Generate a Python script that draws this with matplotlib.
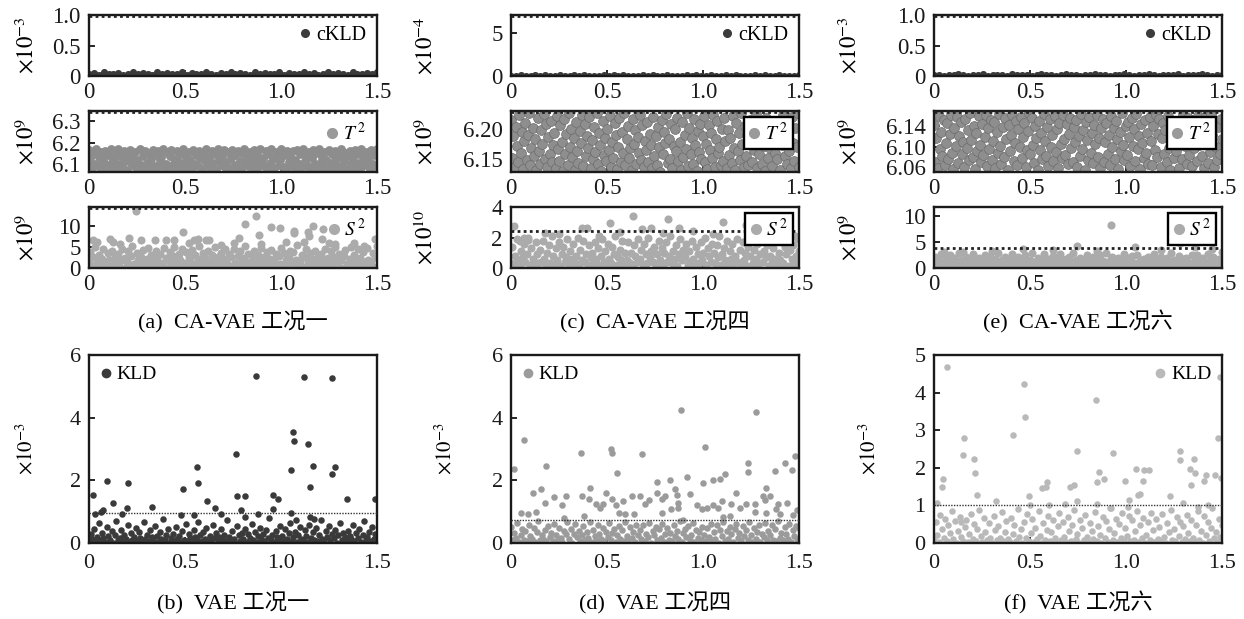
import numpy as np
import matplotlib
matplotlib.use("Agg")
import matplotlib.pyplot as plt
from matplotlib.lines import Line2D

plt.rcParams['font.family'] = ['Liberation Serif', 'Noto Sans CJK SC']
plt.rcParams['mathtext.fontset'] = 'stix'

# ---------------- data ----------------
# CA-VAE, condition 1 (a)
ckld_a = [0.03,0.05,0.02,0.06,0.04,0.03,0.05,0.02,0.04,0.06,0.03,0.05,0.04,0.02,0.06,0.03,0.05,0.04,0.03,0.06,
          0.02,0.05,0.04,0.03,0.06,0.04,0.02,0.05,0.03,0.06,0.04,0.05,0.03,0.02,0.06,0.04,0.05,0.03,0.04,0.06,
          0.02,0.05,0.03,0.04,0.06,0.03,0.05,0.02,0.04,0.06,0.03,0.05,0.04,0.02,0.06,0.04,0.03,0.05,0.04,0.06]
ckld_a_lim = 0.985
t2_a = [6.165,6.121,6.083,6.148,6.102,6.170,6.091,6.134,6.158,6.076,6.117,6.163,6.095,6.141,6.082,6.168,6.109,6.127,6.152,6.079,
        6.171,6.098,6.137,6.086,6.160,6.113,6.074,6.145,6.166,6.104,6.129,6.089,6.156,6.119,6.078,6.169,6.097,6.139,6.084,6.162,
        6.107,6.150,6.073,6.124,6.167,6.093,6.143,6.081,6.159,6.115,6.131,6.172,6.087,6.101,6.154,6.077,6.136,6.164,6.096,6.122,
        6.085,6.161,6.111,6.147,6.075,6.170,6.106,6.132,6.088,6.157,6.118,6.080,6.166,6.099,6.140,6.092,6.163,6.126,6.078,6.153,
        6.114,6.168,6.090,6.135,6.082,6.160,6.103,6.146,6.074,6.171,6.120,6.094,6.138,6.164,6.086,6.110,6.155,6.079,6.128,6.167,
        6.097,6.144,6.083,6.162,6.116,6.073,6.150,6.169,6.100,6.133,6.089,6.158,6.123,6.076,6.165,6.108,6.142,6.084,6.170,6.112,
        6.130,6.091,6.161,6.077,6.149,6.105,6.168,6.125,6.081,6.137,6.156,6.095,6.118,6.172,6.087,6.143,6.075,6.163,6.109,6.134,
        6.090,6.159,6.121,6.078,6.166,6.102,6.147,6.085,6.171,6.115,6.139,6.093,6.154,6.074,6.127,6.164,6.098,6.151,6.082,6.169,
        6.111,6.131,6.088,6.157,6.119,6.076,6.167,6.104,6.145,6.080,6.162,6.124,6.092,6.136,6.170,6.086,6.113,6.153,6.079,6.141,
        6.160,6.099,6.128,6.083,6.165,6.107,6.148,6.075,6.171,6.117,6.135,6.094,6.158,6.122,6.078,6.166,6.101,6.144,6.089,6.168]
t2_a_lim = 6.342
s2_a = [1.2,3.8,0.4,2.6,4.9,0.9,1.7,3.1,0.2,2.2,4.4,1.1,0.6,3.5,2.0,0.3,4.1,1.5,2.8,0.8,
        3.3,0.5,1.9,4.6,0.1,2.4,1.3,3.9,0.7,2.9,5.2,1.0,0.4,3.6,1.8,0.2,2.7,4.3,1.4,0.6,
        2.1,4.8,0.9,3.0,0.3,1.6,4.0,2.5,0.5,3.4,1.2,0.8,4.7,2.3,0.1,1.9,3.7,0.6,2.8,5.0,
        1.4,0.2,3.2,2.0,4.5,0.7,1.1,3.8,0.4,2.6,1.7,4.2,0.9,3.0,0.3,2.2,5.3,1.5,0.6,3.5,
        2.4,0.8,4.1,1.3,0.2,3.1,1.9,4.9,0.5,2.7,1.0,3.6,0.3,2.1,4.4,1.6,0.7,3.3,2.5,0.4,
        4.6,1.2,0.6,2.9,3.9,0.2,1.8,2.3,5.1,0.9,3.4,1.4,0.4,2.6,4.0,1.1,0.3,3.0,2.0,4.7,
        0.8,2.5,1.5,3.7,0.1,2.2,4.3,0.6,1.7,3.2,0.4,2.8,1.0,4.8,0.7,3.5,1.9,0.2,2.4,4.1,
        1.3,3.8,0.5,2.0,5.4,0.9,1.6,3.1,0.3,2.7,4.5,1.2,0.6,3.6,2.1,0.2,4.0,1.4,2.9,0.8,
        3.4,0.4,1.8,4.6,0.7,2.3,1.1,3.9,0.3,2.6,5.0,1.5,0.5,3.3,1.9,0.1,2.8,4.2,1.0,0.6,
        2.2,4.9,0.8,3.0,0.4,1.7,4.4,2.4,0.2,3.7,1.3,0.9,4.7,2.0,0.5,1.6,3.5,0.3,2.5,5.2]
s2_a_high_t = [0.245,0.813,0.871,0.883,0.949,0.993,1.066,1.070,1.139,1.144,1.166,1.219,1.214,0.492,0.210,0.110,
               0.127,0.023,0.040,0.271,0.344,0.400,0.443,0.549,0.567,0.608,0.627,0.779,0.753,0.897,1.027,1.283,
               1.378,1.430,1.491,0.160,0.520,0.690,1.120,1.250]
s2_a_high_v = [13.5,10.4,12.2,7.8,9.6,9.4,8.7,8.2,8.6,7.5,9.8,9.1,6.9,8.6,7.1,6.9,
               6.1,6.5,6.1,6.5,6.6,6.7,6.6,6.6,6.9,6.6,6.6,7.0,5.9,5.7,6.1,5.7,
               5.9,5.3,6.9,5.6,5.8,5.5,6.2,5.9]
s2_a_lim = 14.2

# CA-VAE, condition 4 (c)
ckld_c = [0.05,0.02,0.08,0.04,0.01,0.07,0.03,0.06,0.02,0.05,0.08,0.01,0.04,0.07,0.03,0.06,0.02,0.05,0.01,0.08,
          0.04,0.06,0.02,0.07,0.03,0.05,0.01,0.08,0.04,0.06,0.03,0.02,0.07,0.05,0.01,0.04,0.08,0.03,0.06,0.02,
          0.05,0.07,0.01,0.04,0.06,0.03,0.08,0.02,0.05,0.01,0.07,0.04,0.06,0.03,0.02,0.08,0.05,0.01,0.04,0.06]
ckld_c_lim = 7.05
t2_c = [6.214,6.152,6.187,6.136,6.203,6.171,6.145,6.222,6.160,6.195,6.133,6.179,6.209,6.148,6.190,6.226,6.139,6.167,6.201,6.155,
        6.183,6.131,6.218,6.163,6.142,6.197,6.175,6.224,6.150,6.207,6.137,6.186,6.158,6.212,6.144,6.173,6.193,6.134,6.220,6.166,
        6.147,6.205,6.178,6.130,6.216,6.157,6.191,6.140,6.225,6.169,6.199,6.153,6.185,6.132,6.211,6.162,6.143,6.196,6.176,6.223,
        6.138,6.208,6.154,6.188,6.168,6.219,6.135,6.181,6.149,6.202,6.161,6.226,6.141,6.192,6.172,6.130,6.213,6.156,6.184,6.146,
        6.200,6.165,6.221,6.137,6.177,6.151,6.209,6.189,6.133,6.170,6.217,6.144,6.194,6.159,6.225,6.139,6.182,6.204,6.152,6.167,
        6.131,6.215,6.174,6.198,6.142,6.186,6.160,6.222,6.148,6.206,6.136,6.180,6.164,6.210,6.145,6.191,6.173,6.134,6.219,6.155,
        6.187,6.140,6.203,6.169,6.128,6.214,6.158,6.195,6.176,6.224,6.143,6.183,6.150,6.207,6.135,6.171,6.199,6.163,6.218,6.146,
        6.178,6.132,6.211,6.153,6.190,6.166,6.226,6.138,6.201,6.157,6.184,6.141,6.216,6.172,6.130,6.196,6.161,6.208,6.149,6.188,
        6.220,6.144,6.175,6.133,6.205,6.165,6.193,6.151,6.223,6.137,6.182,6.212,6.159,6.170,6.139,6.200,6.147,6.217,6.179,6.134,
        6.197,6.156,6.185,6.143,6.221,6.168,6.131,6.209,6.162,6.192,6.148,6.225,6.174,6.136,6.204,6.154,6.189,6.140,6.214,6.177,
        6.145,6.202,6.164,6.224,6.135,6.181,6.158,6.210,6.142,6.194,6.171,6.130,6.218,6.152,6.186,6.167,6.206,6.138,6.198,6.160,
        6.213,6.149,6.180,6.132,6.196,6.173,6.222,6.155,6.190,6.141,6.208,6.163,6.134,6.219,6.176,6.147,6.201,6.169,6.226,6.137]
t2_c_lim = 6.227
s2_c = [0.3,1.4,0.1,0.8,1.9,0.5,0.2,1.1,0.7,1.6,0.4,0.9,2.0,0.2,1.3,0.6,0.1,1.7,0.9,0.3,
        1.2,0.4,1.8,0.6,0.1,1.0,1.5,0.3,2.1,0.8,0.2,1.3,0.5,1.7,0.1,0.9,1.4,0.4,0.7,1.9,
        0.2,1.1,0.6,1.6,0.3,0.8,2.0,0.1,1.2,0.5,1.8,0.4,0.9,0.2,1.5,0.7,1.0,0.3,1.7,0.6,
        1.3,0.2,0.8,1.9,0.4,1.1,0.1,1.6,0.6,0.3,1.4,0.9,2.1,0.2,0.7,1.2,0.5,1.8,0.1,1.0,
        0.5,1.7,0.3,1.0,0.1,1.5,0.8,0.4,1.9,0.6,1.2,0.2,1.6,0.9,0.3,2.0,0.7,1.1,0.4,1.4,
        0.1,0.9,1.8,0.5,1.3,0.2,1.0,1.7,0.4,0.8,2.1,0.3,1.1,0.6,1.5,0.1,0.9,1.9,0.5,1.2,
        0.7,1.6,0.2,1.1,0.4,1.8,0.6,0.1,1.4,0.9,0.3,1.7,0.5,1.0,2.0,0.2,1.3,0.8,0.4,1.6,
        1.0,0.3,1.5,0.7,2.1,0.2,0.9,1.3,0.5,1.8,0.1,1.1,0.6,1.6,0.3,0.8,1.9,0.4,1.2,0.2,
        1.7,0.5,1.0,0.1,1.4,0.8,1.9,0.3,1.2,0.6,1.6,0.2,0.9,2.0,0.4,1.1,0.7,1.5,0.1,0.8,
        0.4,1.3,0.6,1.8,0.2,1.0,0.5,1.7,0.3,1.4,0.9,2.1,0.1,1.2,0.6,1.5,0.3,0.8,1.9,1.1]
s2_c_high_t = [0.014,0.045,0.066,0.087,0.178,0.369,0.398,0.516,0.568,0.634,0.681,0.731,0.816,0.876,0.949,
               1.105,1.226,1.296,1.434,0.250,0.460,0.790,1.050,1.360,1.480]
s2_c_high_v = [2.75,1.80,2.00,1.85,2.32,2.65,2.60,2.92,2.39,3.44,2.54,2.60,3.23,2.65,2.43,
               3.01,2.80,2.65,2.65,2.20,2.10,2.30,2.20,2.25,2.10]
s2_c_lim = 2.42

# CA-VAE, condition 6 (e)
ckld_e = [0.01,0.02,0.00,0.02,0.01,0.03,0.01,0.00,0.02,0.01,0.03,0.00,0.02,0.01,0.02,0.00,0.03,0.01,0.02,0.01,
          0.00,0.02,0.03,0.01,0.02,0.00,0.01,0.03,0.02,0.01,0.00,0.02,0.01,0.03,0.01,0.02,0.00,0.01,0.02,0.03,
          0.01,0.00,0.02,0.01,0.03,0.02,0.00,0.01,0.02,0.01,0.03,0.00,0.02,0.01,0.02,0.03,0.01,0.00,0.02,0.01]
ckld_e_lim = 0.985
t2_e = [6.142,6.071,6.118,6.058,6.160,6.095,6.130,6.083,6.152,6.064,6.107,6.147,6.077,6.125,6.163,6.089,6.056,6.136,6.101,6.158,
        6.068,6.121,6.149,6.086,6.110,6.061,6.155,6.098,6.133,6.074,6.166,6.114,6.080,6.140,6.057,6.127,6.092,6.161,6.104,6.070,
        6.145,6.084,6.119,6.163,6.062,6.137,6.096,6.153,6.075,6.112,6.148,6.059,6.129,6.088,6.165,6.102,6.067,6.139,6.081,6.157,
        6.116,6.054,6.143,6.091,6.124,6.162,6.073,6.108,6.150,6.065,6.134,6.099,6.159,6.079,6.120,6.146,6.060,6.093,6.131,6.166,
        6.087,6.156,6.103,6.069,6.141,6.117,6.055,6.151,6.094,6.128,6.076,6.164,6.111,6.082,6.138,6.063,6.154,6.100,6.123,6.072,
        6.160,6.090,6.135,6.058,6.147,6.106,6.078,6.163,6.115,6.085,6.144,6.066,6.126,6.157,6.097,6.071,6.139,6.109,6.152,6.061,
        6.122,6.083,6.165,6.096,6.132,6.054,6.149,6.113,6.075,6.158,6.089,6.127,6.068,6.143,6.105,6.162,6.080,6.118,6.059,6.136,
        6.155,6.070,6.110,6.146,6.087,6.124,6.064,6.161,6.099,6.137,6.077,6.150,6.115,6.057,6.130,6.092,6.166,6.103,6.074,6.141,
        6.084,6.148,6.119,6.062,6.157,6.101,6.134,6.073,6.164,6.095,6.121,6.056,6.145,6.108,6.079,6.153,6.088,6.128,6.067,6.159,
        6.112,6.065,6.140,6.093,6.163,6.081,6.125,6.154,6.060,6.117,6.147,6.086,6.133,6.070,6.161,6.098,6.055,6.142,6.106,6.078,
        6.150,6.091,6.129,6.059,6.144,6.114,6.076,6.165,6.102,6.138,6.066,6.156,6.085,6.120,6.063,6.152,6.097,6.131,6.072,6.160,
        6.104,6.146,6.082,6.135,6.058,6.158,6.111,6.069,6.143,6.090,6.164,6.123,6.061,6.148,6.100,6.075,6.139,6.087,6.155,6.116]
t2_e_lim = 6.168
s2_e = [0.8,2.1,0.3,1.5,0.6,2.7,1.1,0.2,1.8,0.9,0.4,2.4,1.3,0.5,1.9,0.1,1.2,2.9,0.7,1.6,
        0.3,1.4,2.2,0.6,1.0,0.2,1.7,2.6,0.8,0.4,1.3,2.0,0.5,1.1,0.1,2.5,0.9,1.6,0.3,2.3,
        1.2,0.5,1.8,0.2,2.8,1.0,0.6,1.5,0.3,2.1,0.8,1.3,0.1,1.9,2.6,0.7,0.4,1.4,2.2,0.9,
        0.2,1.7,0.6,2.4,1.1,0.3,1.5,0.8,2.9,0.5,1.2,0.1,2.0,0.9,1.6,0.4,2.7,1.0,0.3,1.8,
        1.4,0.6,2.3,0.2,1.0,1.9,0.5,2.6,0.8,1.3,0.2,1.7,0.7,2.1,0.4,1.1,2.8,0.3,1.5,0.9,
        0.5,2.0,1.2,0.1,1.6,0.7,2.5,0.3,1.4,0.9,2.2,0.6,1.0,0.2,1.8,2.4,0.8,1.3,0.4,2.9,
        1.1,0.3,1.7,2.2,0.6,1.4,0.2,2.0,0.9,0.5,1.6,2.7,0.1,1.2,0.8,1.9,0.4,2.3,1.0,0.6,
        2.5,0.9,0.4,1.5,0.2,1.8,1.1,0.6,2.1,0.3,1.3,0.8,2.6,0.5,1.7,0.1,1.0,2.2,0.7,1.4,
        0.3,1.9,0.7,1.2,2.8,0.4,1.5,0.9,0.2,2.3,1.1,0.6,1.7,0.3,2.0,1.3,0.5,0.8,2.5,1.0,
        1.6,0.2,2.4,0.8,1.3,0.5,1.9,0.1,1.0,2.7,0.6,1.4,0.3,2.1,0.9,1.2,0.4,1.8,0.7,3.0]
s2_e_high_t = [0.151,0.465,0.743,0.922,1.048,1.279,1.357,0.300,0.620,0.850,1.180,1.450,0.050]
s2_e_high_v = [3.1,3.7,4.2,8.2,4.0,4.8,4.0,3.2,3.4,3.3,3.5,3.6,3.0]
s2_e_lim = 3.9

# VAE, condition 1 (b)
kld_b = [0.05,0.28,0.12,0.45,0.02,0.19,0.63,0.08,0.33,0.15,0.04,0.52,0.22,0.09,0.38,0.01,0.26,0.71,0.11,0.17,
         0.42,0.06,0.24,0.14,0.58,0.03,0.31,0.10,0.20,0.47,0.07,0.35,0.16,0.02,0.66,0.13,0.27,0.05,0.40,0.18,
         0.09,0.55,0.21,0.04,0.34,0.12,0.76,0.08,0.25,0.44,0.01,0.17,0.30,0.06,0.50,0.14,0.23,0.03,0.37,0.11,
         0.61,0.07,0.29,0.15,0.02,0.43,0.19,0.09,0.68,0.26,0.05,0.36,0.13,0.48,0.04,0.22,0.10,0.57,0.16,0.32,
         0.03,0.20,0.46,0.11,0.27,0.06,0.74,0.18,0.08,0.39,0.14,0.01,0.53,0.24,0.07,0.33,0.12,0.45,0.04,0.28,
         0.15,0.60,0.09,0.35,0.02,0.21,0.49,0.13,0.30,0.06,0.41,0.17,0.79,0.10,0.25,0.03,0.38,0.19,0.08,0.54,
         0.23,0.05,0.44,0.12,0.31,0.65,0.07,0.18,0.36,0.02,0.27,0.50,0.14,0.09,0.40,0.21,0.04,0.59,0.16,0.34,
         0.11,0.47,0.06,0.26,0.72,0.13,0.03,0.37,0.20,0.55,0.08,0.29,0.15,0.42,0.01,0.24,0.64,0.10,0.32,0.18,
         0.05,0.39,0.22,0.12,0.57,0.07,0.33,0.16,0.46,0.03,0.25,0.70,0.11,0.19,0.36,0.06,0.52,0.14,0.28,0.09]
kld_b_high_t = [0.020,0.030,0.096,0.060,0.075,0.127,0.205,0.200,0.174,0.330,0.490,0.480,0.545,0.560,0.567,0.614,
                0.654,0.690,0.765,0.770,0.810,0.790,0.810,0.871,0.880,0.958,0.984,0.960,1.062,1.069,1.053,1.053,
                1.121,1.139,1.149,1.166,1.264,1.265,1.283,1.344,1.487,1.153,1.170,1.080]
kld_b_high_v = [1.52,0.92,1.98,1.00,1.04,1.28,1.90,1.12,0.94,1.15,1.73,0.88,0.90,2.41,1.93,1.33,
                1.12,0.94,2.84,1.49,1.51,1.04,0.83,5.33,0.92,1.52,1.39,1.07,3.53,3.26,2.32,0.96,
                5.31,3.16,1.79,2.47,5.27,2.20,2.43,1.40,1.42,0.83,0.78,0.72]
kld_b_lim = 0.95

# VAE, condition 4 (d)
kld_d = [0.52,0.08,0.31,0.17,0.64,0.03,0.25,0.44,0.11,0.38,0.06,0.58,0.21,0.14,0.47,0.02,0.35,0.69,0.09,0.27,
         0.13,0.41,0.05,0.55,0.19,0.33,0.07,0.62,0.24,0.10,0.49,0.16,0.04,0.37,0.28,0.67,0.12,0.45,0.01,0.30,
         0.60,0.18,0.39,0.06,0.26,0.53,0.10,0.34,0.15,0.66,0.03,0.43,0.22,0.08,0.57,0.29,0.13,0.48,0.05,0.36,
         0.20,0.63,0.09,0.32,0.46,0.02,0.27,0.54,0.14,0.40,0.07,0.68,0.23,0.11,0.50,0.17,0.35,0.04,0.59,0.26,
         0.42,0.12,0.56,0.06,0.30,0.19,0.65,0.01,0.37,0.24,0.51,0.09,0.44,0.15,0.61,0.03,0.28,0.48,0.10,0.33,
         0.07,0.58,0.22,0.39,0.13,0.70,0.04,0.31,0.46,0.18,0.55,0.08,0.25,0.64,0.02,0.41,0.16,0.36,0.11,0.52,
         0.27,0.05,0.47,0.20,0.62,0.09,0.34,0.14,0.57,0.01,0.43,0.23,0.67,0.06,0.38,0.12,0.50,0.29,0.03,0.45,
         0.60,0.16,0.32,0.07,0.53,0.21,0.40,0.10,0.66,0.26,0.04,0.49,0.13,0.35,0.58,0.02,0.30,0.19,0.63,0.08,
         0.37,0.24,0.56,0.11,0.44,0.05,0.69,0.17,0.33,0.09,0.51,0.28,0.14,0.61,0.03,0.42,0.22,0.54,0.12,0.47]
kld_d_high_t = [0.017,0.069,0.050,0.087,0.113,0.130,0.156,0.180,0.178,0.222,0.265,0.288,0.277,0.366,0.369,0.378,
                0.412,0.404,0.443,0.464,0.478,0.495,0.521,0.528,0.551,0.546,0.525,0.563,0.585,0.594,0.629,0.641,
                0.672,0.681,0.698,0.720,0.762,0.762,0.785,0.785,0.802,0.828,0.831,0.854,0.863,0.868,0.871,0.883,
                0.894,0.918,0.932,0.970,0.998,1.008,0.996,1.019,1.053,1.050,1.091,1.079,1.114,1.097,1.105,1.140,
                1.148,1.171,1.192,1.235,1.235,1.226,1.273,1.278,1.270,1.310,1.330,1.322,1.330,1.351,1.374,1.391,
                1.382,1.403,1.429,1.438,1.464,1.469,1.481,1.490]
kld_d_high_v = [2.36,3.30,0.96,0.94,1.58,0.98,1.72,2.46,1.28,1.46,1.20,1.50,0.80,2.88,1.50,0.86,
                1.74,1.39,1.24,1.12,1.26,1.61,3.01,2.88,2.22,1.20,1.39,0.96,1.34,0.92,1.50,0.92,
                1.50,2.83,1.26,1.36,1.95,1.61,1.39,0.97,1.49,2.00,1.07,1.72,1.52,1.28,1.12,4.24,
                0.75,2.11,1.56,1.20,1.90,3.05,1.08,1.12,2.00,1.20,2.03,1.13,2.20,1.33,0.83,0.86,
                1.23,1.58,1.12,2.56,2.26,1.26,1.26,4.17,0.99,1.50,1.76,1.36,0.96,1.49,2.29,1.26,
                1.07,0.94,2.54,1.28,2.32,0.88,2.78,1.05]
kld_d_lim = 0.72

# VAE, condition 6 (f)
kld_f = [0.08,0.55,0.21,0.02,0.74,0.36,0.12,0.63,0.04,0.47,0.27,0.85,0.10,0.58,0.01,0.32,0.69,0.15,0.05,0.42,
         0.60,0.03,0.25,0.78,0.11,0.50,0.06,0.38,0.88,0.18,0.02,0.66,0.29,0.09,0.53,0.14,0.01,0.71,0.34,0.07,
         0.45,0.13,0.82,0.04,0.30,0.59,0.10,0.02,0.67,0.23,0.48,0.06,0.90,0.17,0.37,0.01,0.56,0.12,0.76,0.05,
         0.26,0.64,0.03,0.41,0.11,0.84,0.19,0.01,0.52,0.08,0.35,0.72,0.04,0.28,0.61,0.13,0.02,0.46,0.80,0.09,
         0.57,0.16,0.03,0.68,0.33,0.06,0.49,0.87,0.11,0.24,0.01,0.62,0.40,0.07,0.75,0.15,0.02,0.54,0.31,0.10,
         0.83,0.05,0.44,0.20,0.01,0.70,0.12,0.58,0.03,0.37,0.92,0.08,0.27,0.65,0.02,0.50,0.14,0.79,0.06,0.39,
         0.18,0.73,0.04,0.60,0.09,0.31,0.86,0.02,0.47,0.13,0.66,0.01,0.22,0.55,0.07,0.81,0.35,0.03,0.63,0.11,
         0.43,0.05,0.77,0.16,0.01,0.52,0.29,0.89,0.08,0.36,0.04,0.69,0.19,0.57,0.02,0.45,0.10,0.74,0.26,0.06,
         0.62,0.14,0.03,0.49,0.84,0.09,0.33,0.01,0.71,0.21,0.56,0.05,0.40,0.93,0.12,0.28,0.02,0.64,0.17,0.48]
kld_f_high_t = [0.016,0.047,0.042,0.066,0.139,0.155,0.151,0.207,0.216,0.226,0.322,0.414,0.468,0.473,0.496,0.500,
                0.564,0.586,0.583,0.599,0.682,0.708,0.731,0.743,0.746,0.842,0.847,0.858,0.847,0.886,0.934,0.917,
                0.995,1.009,1.018,1.051,1.060,1.074,1.091,1.096,1.121,1.227,1.282,1.279,1.296,1.335,1.357,1.352,
                1.340,1.375,1.404,1.416,1.425,1.465,1.477,1.488,1.495]
kld_f_high_v = [1.07,1.69,1.49,4.69,0.55,2.79,2.35,2.24,1.86,1.28,1.13,2.86,4.22,3.34,1.26,1.01,
                1.46,1.61,1.49,1.00,1.04,1.49,1.53,1.13,2.44,3.80,1.62,1.89,1.04,1.69,2.39,0.93,
                1.66,0.97,1.15,1.96,1.28,1.31,1.66,1.93,1.95,1.24,2.44,2.20,1.07,1.98,1.86,2.24,
                1.53,0.97,1.66,1.82,1.01,1.80,2.79,4.42,1.73]
kld_f_lim = 1.0

captions = ['(a)  CA-VAE 工况一', '(c)  CA-VAE 工况四', '(e)  CA-VAE 工况六',
            '(b)  VAE 工况一', '(d)  VAE 工况四', '(f)  VAE 工况六']

# ---------------- layout ----------------
W, H = 1244, 619
fig = plt.figure(figsize=(W / 100, H / 100), dpi=100)


def ax_px(l, t, r, b):
    return fig.add_axes([l / W, 1 - b / H, (r - l) / W, (b - t) / H])


col_l = [89, 511, 934]
col_r = [377, 799, 1222]
rows = [(15, 76), (111, 172), (207, 268)]
bot = (355, 543)

DARK = '#3b3b3b'
LIGHT = '#ababab'


def style(ax, fs, xpad, ypad):
    ax.set_xlim(0, 1.5)
    ax.set_xticks([0, 0.5, 1.0, 1.5])
    ax.set_xticklabels(['0', '0.5', '1.0', '1.5'])
    ax.tick_params(direction='in', length=4, width=1.2, labelsize=fs, top=False, right=False,
                   labelcolor='#1a1a1a')
    ax.tick_params(axis='x', pad=xpad)
    ax.tick_params(axis='y', pad=ypad)
    for s in ax.spines.values():
        s.set_linewidth(1.7)
        s.set_color('#1a1a1a')


def scatter_series(ax, vals, color, s, ec=None, lw=0.0, extra_t=None, extra_v=None):
    t = np.linspace(0, 1.5, len(vals))
    ax.scatter(t, vals, s=s, c=color, edgecolors=ec if ec else color, linewidths=lw, zorder=2)
    if extra_t is not None:
        ax.scatter(extra_t, extra_v, s=s, c=color, edgecolors=ec if ec else color, linewidths=lw, zorder=2)


def add_legend(ax, label, color, loc, framed, fs, ms=6):
    h = Line2D([], [], ls='', marker='o', ms=ms, mfc=color, mec=color)
    leg = ax.legend([h], [label], loc=loc, frameon=framed, fontsize=fs, handlelength=0.6,
                    handletextpad=0.25, borderaxespad=0.3, borderpad=0.25, fancybox=False)
    if framed:
        leg.get_frame().set_edgecolor('black')
        leg.get_frame().set_linewidth(1.7)
        leg.get_frame().set_alpha(1)
    leg.set_zorder(5)


def thr(ax, y, lw=2.0):
    ax.axhline(y, color='#222222', ls=(0, (1, 1.2)), lw=lw, zorder=3)


TFS = 16.5
ylab_fs_top = 16.5
ylab_fs_bot = 15

top_sets = [
    dict(ckld=ckld_a, ckld_lim=ckld_a_lim, ckld_ylim=(0, 1.0), ckld_ticks=[0, 0.5, 1.0], ckld_tl=['0', '0.5', '1.0'],
         ckld_exp=r'$\times 10^{-3}$',
         t2=t2_a, t2_lim=t2_a_lim, t2_ylim=(6.063, 6.347), t2_ticks=[6.1, 6.2, 6.3], t2_tl=['6.1', '6.2', '6.3'],
         t2_col='#8d8d8d', t2_ec='#8d8d8d', t2_s=34, t2_frame=False,
         s2=s2_a, s2_t=s2_a_high_t, s2_v=s2_a_high_v, s2_lim=s2_a_lim, s2_ylim=(0, 14.4), s2_ticks=[0, 5, 10],
         s2_exp=r'$\times 10^{9}$', s2_frame=False),
    dict(ckld=ckld_c, ckld_lim=ckld_c_lim, ckld_ylim=(0, 7.15), ckld_ticks=[0, 5], ckld_tl=['0', '5'],
         ckld_exp=r'$\times 10^{-4}$',
         t2=t2_c, t2_lim=t2_c_lim, t2_ylim=(6.128, 6.229), t2_ticks=[6.15, 6.20], t2_tl=['6.15', '6.20'],
         t2_col='#8e8e8e', t2_ec='#6c6c6c', t2_s=50, t2_frame=True,
         s2=s2_c, s2_t=s2_c_high_t, s2_v=s2_c_high_v, s2_lim=s2_c_lim, s2_ylim=(0, 4.0), s2_ticks=[0, 2, 4],
         s2_exp=r'$\times 10^{10}$', s2_frame=True),
    dict(ckld=ckld_e, ckld_lim=ckld_e_lim, ckld_ylim=(0, 1.0), ckld_ticks=[0, 0.5, 1.0], ckld_tl=['0', '0.5', '1.0'],
         ckld_exp=r'$\times 10^{-3}$',
         t2=t2_e, t2_lim=t2_e_lim, t2_ylim=(6.051, 6.170), t2_ticks=[6.06, 6.10, 6.14], t2_tl=['6.06', '6.10', '6.14'],
         t2_col='#8e8e8e', t2_ec='#6c6c6c', t2_s=50, t2_frame=True,
         s2=s2_e, s2_t=s2_e_high_t, s2_v=s2_e_high_v, s2_lim=s2_e_lim, s2_ylim=(0, 11.7), s2_ticks=[0, 5, 10],
         s2_exp=r'$\times 10^{9}$', s2_frame=True),
]
ylab_x_top = [27, 426, 850]
ylab_x_bot = [27, 446, 870]

for c, d in enumerate(top_sets):
    # cKLD row
    ax = ax_px(col_l[c], rows[0][0], col_r[c], rows[0][1])
    style(ax, TFS, 4, 6)
    scatter_series(ax, d['ckld'], DARK, 26)
    thr(ax, d['ckld_lim'])
    ax.set_ylim(*d['ckld_ylim'])
    ax.set_yticks(d['ckld_ticks'])
    ax.set_yticklabels(d['ckld_tl'])
    add_legend(ax, 'cKLD', DARK, 'upper right', False, 14.5, ms=5.5)
    fig.text(ylab_x_top[c] / W, 1 - sum(rows[0]) / 2 / H, d['ckld_exp'], rotation=90,
             ha='center', va='center', fontsize=ylab_fs_top)

    # T2 row
    ax = ax_px(col_l[c], rows[1][0], col_r[c], rows[1][1])
    style(ax, TFS, 4, 6)
    scatter_series(ax, d['t2'], d['t2_col'], d['t2_s'], ec=d['t2_ec'], lw=0.5)
    thr(ax, d['t2_lim'])
    ax.set_ylim(*d['t2_ylim'])
    ax.set_yticks(d['t2_ticks'])
    ax.set_yticklabels(d['t2_tl'])
    add_legend(ax, r'$T^{\,2}$', '#9a9a9a', 'upper right', d['t2_frame'], 14, ms=7)
    fig.text(ylab_x_top[c] / W, 1 - sum(rows[1]) / 2 / H, r'$\times 10^{9}$', rotation=90,
             ha='center', va='center', fontsize=ylab_fs_top)

    # S2 row
    ax = ax_px(col_l[c], rows[2][0], col_r[c], rows[2][1])
    style(ax, TFS, 4, 6)
    scatter_series(ax, d['s2'], LIGHT, 34, extra_t=d['s2_t'], extra_v=d['s2_v'])
    thr(ax, d['s2_lim'])
    ax.set_ylim(*d['s2_ylim'])
    ax.set_yticks(d['s2_ticks'])
    ax.set_yticklabels([str(v) for v in d['s2_ticks']])
    add_legend(ax, r'$S^{\,2}$', LIGHT, 'upper right', d['s2_frame'], 14, ms=7)
    fig.text(ylab_x_top[c] / W, 1 - sum(rows[2]) / 2 / H, d['s2_exp'], rotation=90,
             ha='center', va='center', fontsize=ylab_fs_top)

    fig.text((col_l[c] + col_r[c]) / 2 / W, 1 - 322 / H, captions[c], ha='center', va='center', fontsize=16)

bot_sets = [
    dict(v=kld_b, t=kld_b_high_t, hv=kld_b_high_v, lim=kld_b_lim, col='#3a3a3a', ylim=(0, 6), ticks=[0, 2, 4, 6],
         loc='upper left'),
    dict(v=kld_d, t=kld_d_high_t, hv=kld_d_high_v, lim=kld_d_lim, col='#9b9b9b', ylim=(0, 6), ticks=[0, 2, 4, 6],
         loc='upper left'),
    dict(v=kld_f, t=kld_f_high_t, hv=kld_f_high_v, lim=kld_f_lim, col='#b9b9b9', ylim=(0, 5),
         ticks=[0, 1, 2, 3, 4, 5], loc='upper right'),
]
for c, d in enumerate(bot_sets):
    ax = ax_px(col_l[c], bot[0], col_r[c], bot[1])
    style(ax, 16, 8, 6)
    scatter_series(ax, d['v'], d['col'], 22, extra_t=d['t'], extra_v=d['hv'])
    ax.axhline(d['lim'], color='#333333', ls=(0, (1, 1)), lw=1.0, zorder=3)
    ax.set_ylim(*d['ylim'])
    ax.set_yticks(d['ticks'])
    ax.set_yticklabels([str(v) for v in d['ticks']])
    add_legend(ax, 'KLD', d['col'], d['loc'], False, 14, ms=6)
    fig.text(ylab_x_bot[c] / W, 1 - sum(bot) / 2 / H, r'$\times 10^{-3}$', rotation=90,
             ha='center', va='center', fontsize=ylab_fs_bot)
    fig.text((col_l[c] + col_r[c]) / 2 / W, 1 - 603 / H, captions[3 + c], ha='center', va='center', fontsize=16)

fig.savefig('out.png', dpi=100, facecolor='white')
